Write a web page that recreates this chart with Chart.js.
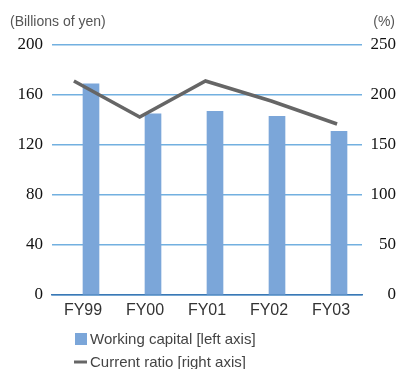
<!DOCTYPE html>
<html>
<head>
<meta charset="utf-8">
<script src="https://cdn.jsdelivr.net/npm/chart.js@4/dist/chart.umd.min.js"></script>
<style>
  html, body { margin: 0; padding: 0; background: #fff; }
  #wrap { width: 396px; height: 369px; }
</style>
</head>
<body>
<div id="wrap"><canvas id="myChart" width="396" height="369"></canvas></div>
<script>
var anios = ['FY99', 'FY00', 'FY01', 'FY02', 'FY03'];
var capital = [169, 145, 147, 143, 131];   // billions of yen
var ratio = [214, 178, 214, 194, 171];     // %
var ticksYen = [0, 40, 80, 120, 160, 200];
var ticksPct = [0, 50, 100, 150, 200, 250];

var azulBarra = '#7ba6d9';
var grisLinea = '#666666';
var serifFam = 'Liberation Serif';
var sansFam = '"Liberation Sans", Arial, sans-serif';

// axis captions and the two-row legend under the chart
var extras = {
    id: 'extras',
    afterDraw: function(chart){
        var ctx = chart.ctx;
        var barras = chart.data.datasets[1];
        var linea = chart.data.datasets[0];
        ctx.save();
        ctx.fillStyle = '#555';
        ctx.font = '14px ' + sansFam;
        ctx.textBaseline = 'middle';
        ctx.textAlign = 'left';
        ctx.fillText('(Billions of yen)', 10, 22);
        ctx.textAlign = 'right';
        ctx.fillText('(%)', 395, 22);

        ctx.textAlign = 'left';
        ctx.font = '15px ' + sansFam;
        ctx.fillStyle = barras.backgroundColor;
        ctx.fillRect(75, 333, 12, 12);
        ctx.fillStyle = '#444';
        ctx.fillText(barras.label, 90, 340);

        ctx.strokeStyle = linea.borderColor;
        ctx.lineWidth = 3;
        ctx.beginPath();
        ctx.moveTo(74, 362);
        ctx.lineTo(87, 362);
        ctx.stroke();
        ctx.fillText(linea.label, 90, 363);
        ctx.restore();
    }
};

var ctx = document.getElementById('myChart');
var chart = new Chart(ctx, {
    type: 'bar',
    data: {
        labels: anios,
        datasets: [{
            type: 'line',
            label: 'Current ratio [right axis]',
            data: ratio.map(function(v, i){ return {x: i, y: v}; }),
            xAxisID: 'x2',
            yAxisID: 'y2',
            borderColor: grisLinea,
            backgroundColor: grisLinea,
            borderWidth: 3.5,
            pointRadius: 0,
            tension: 0,
            order: 0
        }, {
            label: 'Working capital [left axis]',
            data: capital,
            yAxisID: 'y',
            backgroundColor: azulBarra,
            barThickness: 16,
            order: 1
        }]
    },
    options: {
        responsive: false,
        animation: false,
        layout: { padding: { top: 45, left: 0, right: 0, bottom: 0 } },
        plugins: {
            legend: { display: false },
            tooltip: { enabled: false }
        },
        scales: {
            x: {
                type: 'category',
                offset: true,
                grid: { display: false, drawTicks: false },
                border: { color: '#3a78b5', width: 1.5 },
                ticks: {
                    color: '#333',
                    padding: 6,
                    font: { family: sansFam, size: 16 }
                },
                afterFit: function(s){ s.height = 74; }
            },
            x2: {
                type: 'linear',
                display: false,
                offset: false,
                min: -0.333,
                max: 4.379
            },
            y: {
                position: 'left',
                min: 0,
                max: 200,
                afterBuildTicks: function(s){
                    s.ticks = ticksYen.map(function(v){ return {value: v}; });
                },
                grid: { color: '#72b0e0', lineWidth: 1.5, drawTicks: false },
                border: { display: false },
                ticks: {
                    color: '#111',
                    padding: 9,
                    font: { family: serifFam, size: 17 }
                },
                afterFit: function(s){ s.width = 52; }
            },
            y2: {
                position: 'right',
                min: 0,
                max: 250,
                afterBuildTicks: function(s){
                    s.ticks = ticksPct.map(function(v){ return {value: v}; });
                },
                grid: { display: false, drawTicks: false },
                border: { display: false },
                ticks: {
                    color: '#111',
                    padding: 2,
                    crossAlign: 'far',
                    font: { family: serifFam, size: 17 }
                },
                afterFit: function(s){ s.width = 34; }
            }
        }
    },
    plugins: [extras]
});
</script>
</body>
</html>
